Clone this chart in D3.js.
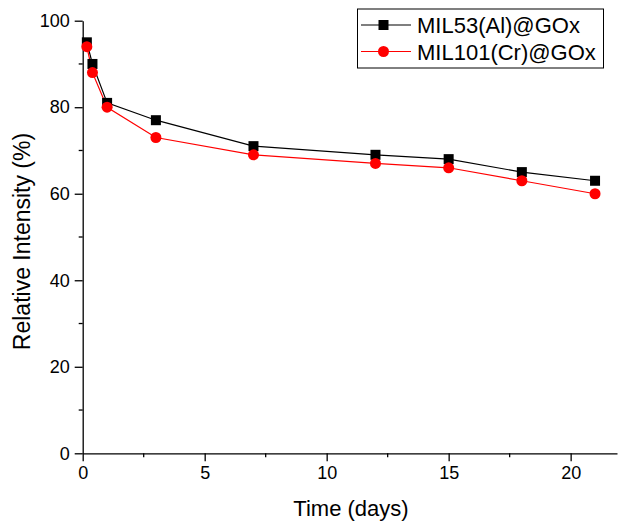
<!DOCTYPE html>
<html>
<head>
<meta charset="utf-8">
<script src="https://cdn.jsdelivr.net/npm/d3@7"></script>
<style>
  body { margin: 0; background: #fff; }
  text { font-family: "Liberation Sans", Arial, sans-serif; }
</style>
</head>
<body>
<div id="vis"></div>
<script>
// data
const days = [0.17, 0.4, 1, 3, 7, 12, 15, 18, 21];
const mil53 = [95, 90, 81, 77, 71, 69, 68, 65, 63];
const mil101 = [94, 88, 80, 73, 69, 67, 66, 63, 60];
const seriesNames = ["MIL53(Al)@GOx", "MIL101(Cr)@GOx"];
const xTicks = [0, 5, 10, 15, 20];
const yTicks = [0, 20, 40, 60, 80, 100];

const width = 618, height = 522;
const svg = d3.select("#vis")
    .append("svg")
    .attr("width", width)
    .attr("height", height);

const x = d3.scaleLinear().domain([0, 21.9]).range([82.7, 617]);
const y = d3.scaleLinear().domain([0, 100]).range([453.3, 20.7]);

// minor ticks
svg.append("g")
    .selectAll("line")
    .data(d3.range(2.5, 21.9, 5))
    .enter().append("line")
    .attr("x1", d => x(d)).attr("x2", d => x(d))
    .attr("y1", y(0)).attr("y2", y(0) + 4)
    .attr("stroke", "#000").attr("stroke-width", 1.3);

svg.append("g")
    .selectAll("line")
    .data(d3.range(10, 100, 20))
    .enter().append("line")
    .attr("y1", d => y(d)).attr("y2", d => y(d))
    .attr("x1", x(0)).attr("x2", x(0) - 4)
    .attr("stroke", "#000").attr("stroke-width", 1.3);

const xAxis = svg.append("g")
    .attr("transform", `translate(0,${y(0)})`)
    .call(d3.axisBottom(x).tickValues(xTicks).tickSize(8).tickPadding(5).tickSizeOuter(0));

const yAxis = svg.append("g")
    .attr("transform", `translate(${x(0)},0)`)
    .call(d3.axisLeft(y).tickValues(yTicks).tickSize(8).tickPadding(5).tickSizeOuter(0));

[xAxis, yAxis].forEach(a => {
    a.selectAll("path, line").attr("stroke", "#000").attr("stroke-width", 1.3);
    a.selectAll("text")
        .style("font-family", "Liberation Sans, Arial, sans-serif")
        .style("font-size", "18px")
        .attr("fill", "#000");
});

// axis titles
svg.append("text")
    .attr("x", 351).attr("y", 516)
    .attr("text-anchor", "middle")
    .style("font-size", "22px")
    .text("Time (days)");

svg.append("text")
    .attr("transform", "translate(30,241.5) rotate(-90)")
    .attr("text-anchor", "middle")
    .style("font-size", "23px")
    .text("Relative Intensity (%)");

const line = d3.line().x(d => x(d[0])).y(d => y(d[1]));

const black = days.map((d, i) => [d, mil53[i]]);
const red = days.map((d, i) => [d, mil101[i]]);

svg.append("path").datum(black).attr("d", line)
    .attr("fill", "none").attr("stroke", "#000").attr("stroke-width", 1.2);
svg.append("path").datum(red).attr("d", line)
    .attr("fill", "none").attr("stroke", "#ff0000").attr("stroke-width", 1.2);

svg.append("g").selectAll("rect")
    .data(black)
    .enter().append("rect")
    .attr("x", d => x(d[0]) - 5).attr("y", d => y(d[1]) - 5)
    .attr("width", 10).attr("height", 10)
    .attr("fill", "#000");

svg.append("g").selectAll("circle")
    .data(red)
    .enter().append("circle")
    .attr("cx", d => x(d[0])).attr("cy", d => y(d[1]))
    .attr("r", 5.5)
    .attr("fill", "#ff0000");

// legend
const legend = svg.append("g");
legend.append("rect")
    .attr("x", 357.5).attr("y", 9)
    .attr("width", 246).attr("height", 59)
    .attr("fill", "#fff").attr("stroke", "#000").attr("stroke-width", 1);

const rows = [
    { name: seriesNames[0], color: "#000", shape: "square", cy: 25 },
    { name: seriesNames[1], color: "#ff0000", shape: "circle", cy: 51.5 }
];
rows.forEach(r => {
    legend.append("line")
        .attr("x1", 361).attr("x2", 411)
        .attr("y1", r.cy).attr("y2", r.cy)
        .attr("stroke", r.color).attr("stroke-width", 1.2);
    if (r.shape === "square") {
        legend.append("rect")
            .attr("x", 383.5 - 5).attr("y", r.cy - 5)
            .attr("width", 10).attr("height", 10)
            .attr("fill", r.color);
    } else {
        legend.append("circle")
            .attr("cx", 383.5).attr("cy", r.cy).attr("r", 5.5)
            .attr("fill", r.color);
    }
    legend.append("text")
        .attr("x", 417).attr("y", r.cy + 8)
        .style("font-size", "22px")
        .text(r.name);
});
</script>
</body>
</html>
